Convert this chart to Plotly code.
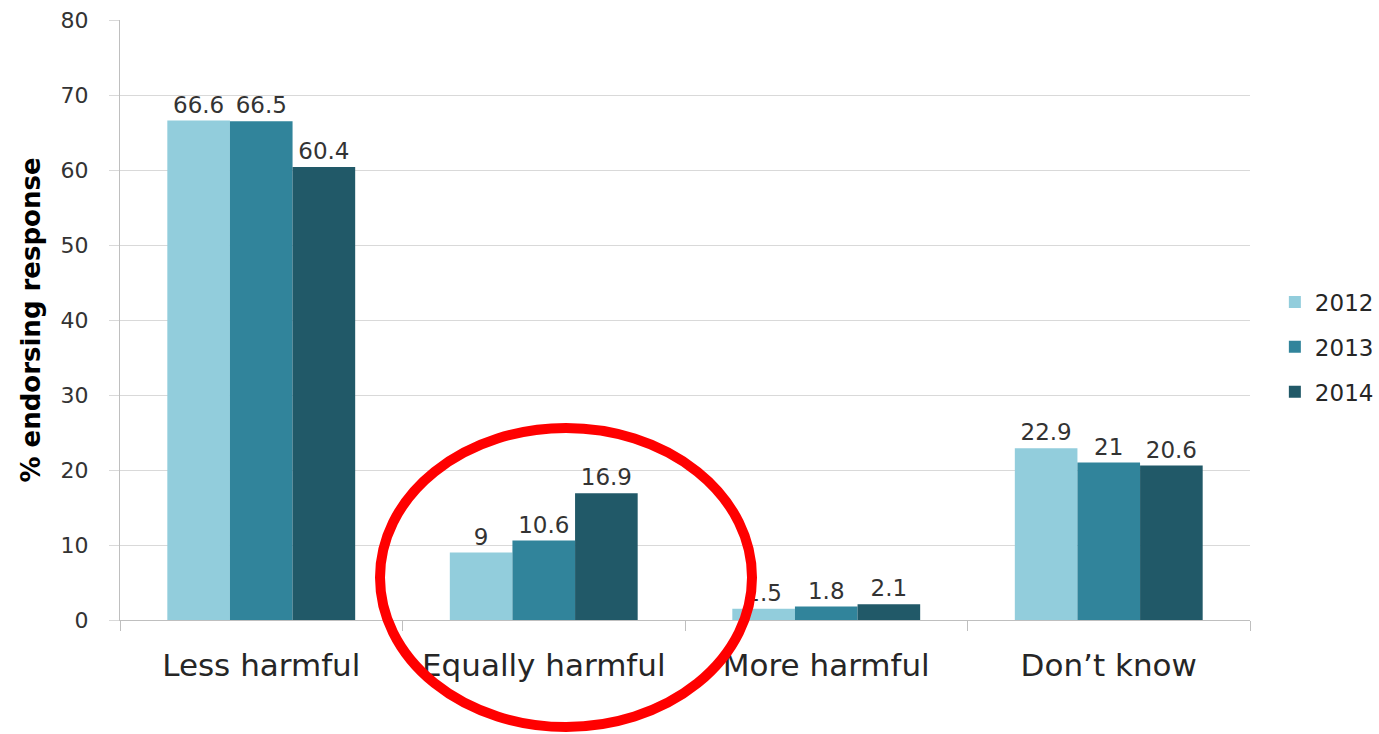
import plotly.graph_objects as go

categories = ["Less harmful", "Equally harmful", "More harmful", "Don\u2019t know"]
years = ["2012", "2013", "2014"]
vals_2012 = [66.6, 9, 1.5, 22.9]
vals_2013 = [66.5, 10.6, 1.8, 21]
vals_2014 = [60.4, 16.9, 2.1, 20.6]
label_2012 = ["66.6", "9", "1.5", "22.9"]
label_2013 = ["66.5", "10.6", "1.8", "21"]
label_2014 = ["60.4", "16.9", "2.1", "20.6"]
colors = ["#92CDDC", "#31849B", "#215968"]

series = [vals_2012, vals_2013, vals_2014]
labels = [label_2012, label_2013, label_2014]

FONT = "DejaVu Sans"

fig = go.Figure()
for i, (yr, vals, lab) in enumerate(zip(years, series, labels)):
    fig.add_trace(go.Bar(
        x=categories, y=vals, name=yr,
        marker=dict(color=colors[i], line=dict(width=0)),
        text=lab, textposition="outside", cliponaxis=False,
        textfont=dict(family=FONT, size=23, color="#333333"),
        legendgroup=yr,
    ))

W, H = 1379, 734
ml, mr, mt, mb = 120, 129, 20, 114
pw, ph = W - ml - mr, H - mt - mb

def px_x(p):
    return (p - ml) / pw

def px_y(p):
    return (H - mb - p) / ph

fig.add_shape(type="circle", xref="paper", yref="paper",
              x0=px_x(380), x1=px_x(752), y0=px_y(727), y1=px_y(428),
              line=dict(color="#FF0000", width=10), layer="above")

fig.update_layout(
    width=W, height=H,
    margin=dict(l=ml, r=mr, t=mt, b=mb, autoexpand=False),
    paper_bgcolor="white", plot_bgcolor="white",
    barmode="group", bargap=0.335, bargroupgap=0,
    font=dict(family=FONT, color="#262626"),
    showlegend=True,
    legend=dict(x=1.022, y=0.455, xanchor="left", yanchor="middle",
                font=dict(family=FONT, size=23, color="#262626"),
                traceorder="grouped", tracegroupgap=12,
                bgcolor="rgba(0,0,0,0)"),
    xaxis=dict(
        type="category", tickson="boundaries", ticks="outside", ticklen=10,
        tickcolor="#BFBFBF", showline=True, linecolor="#BFBFBF", linewidth=1,
        showgrid=False, tickfont=dict(family=FONT, size=31, color="#262626"),
        ticklabelstandoff=18,
    ),
    yaxis=dict(
        range=[0, 80], dtick=10, showgrid=True, gridcolor="#D9D9D9", gridwidth=1,
        zeroline=False, showline=True, linecolor="#BFBFBF", linewidth=1,
        ticks="outside", ticklen=10, tickcolor="#D9D9D9",
        tickfont=dict(family=FONT, size=22, color="#333333"),
        ticklabelstandoff=16,
        title=dict(text="<b>% endorsing response</b>",
                   font=dict(family=FONT, size=26, color="#000000"), standoff=12),
    ),
)

fig.write_html("out.html")
